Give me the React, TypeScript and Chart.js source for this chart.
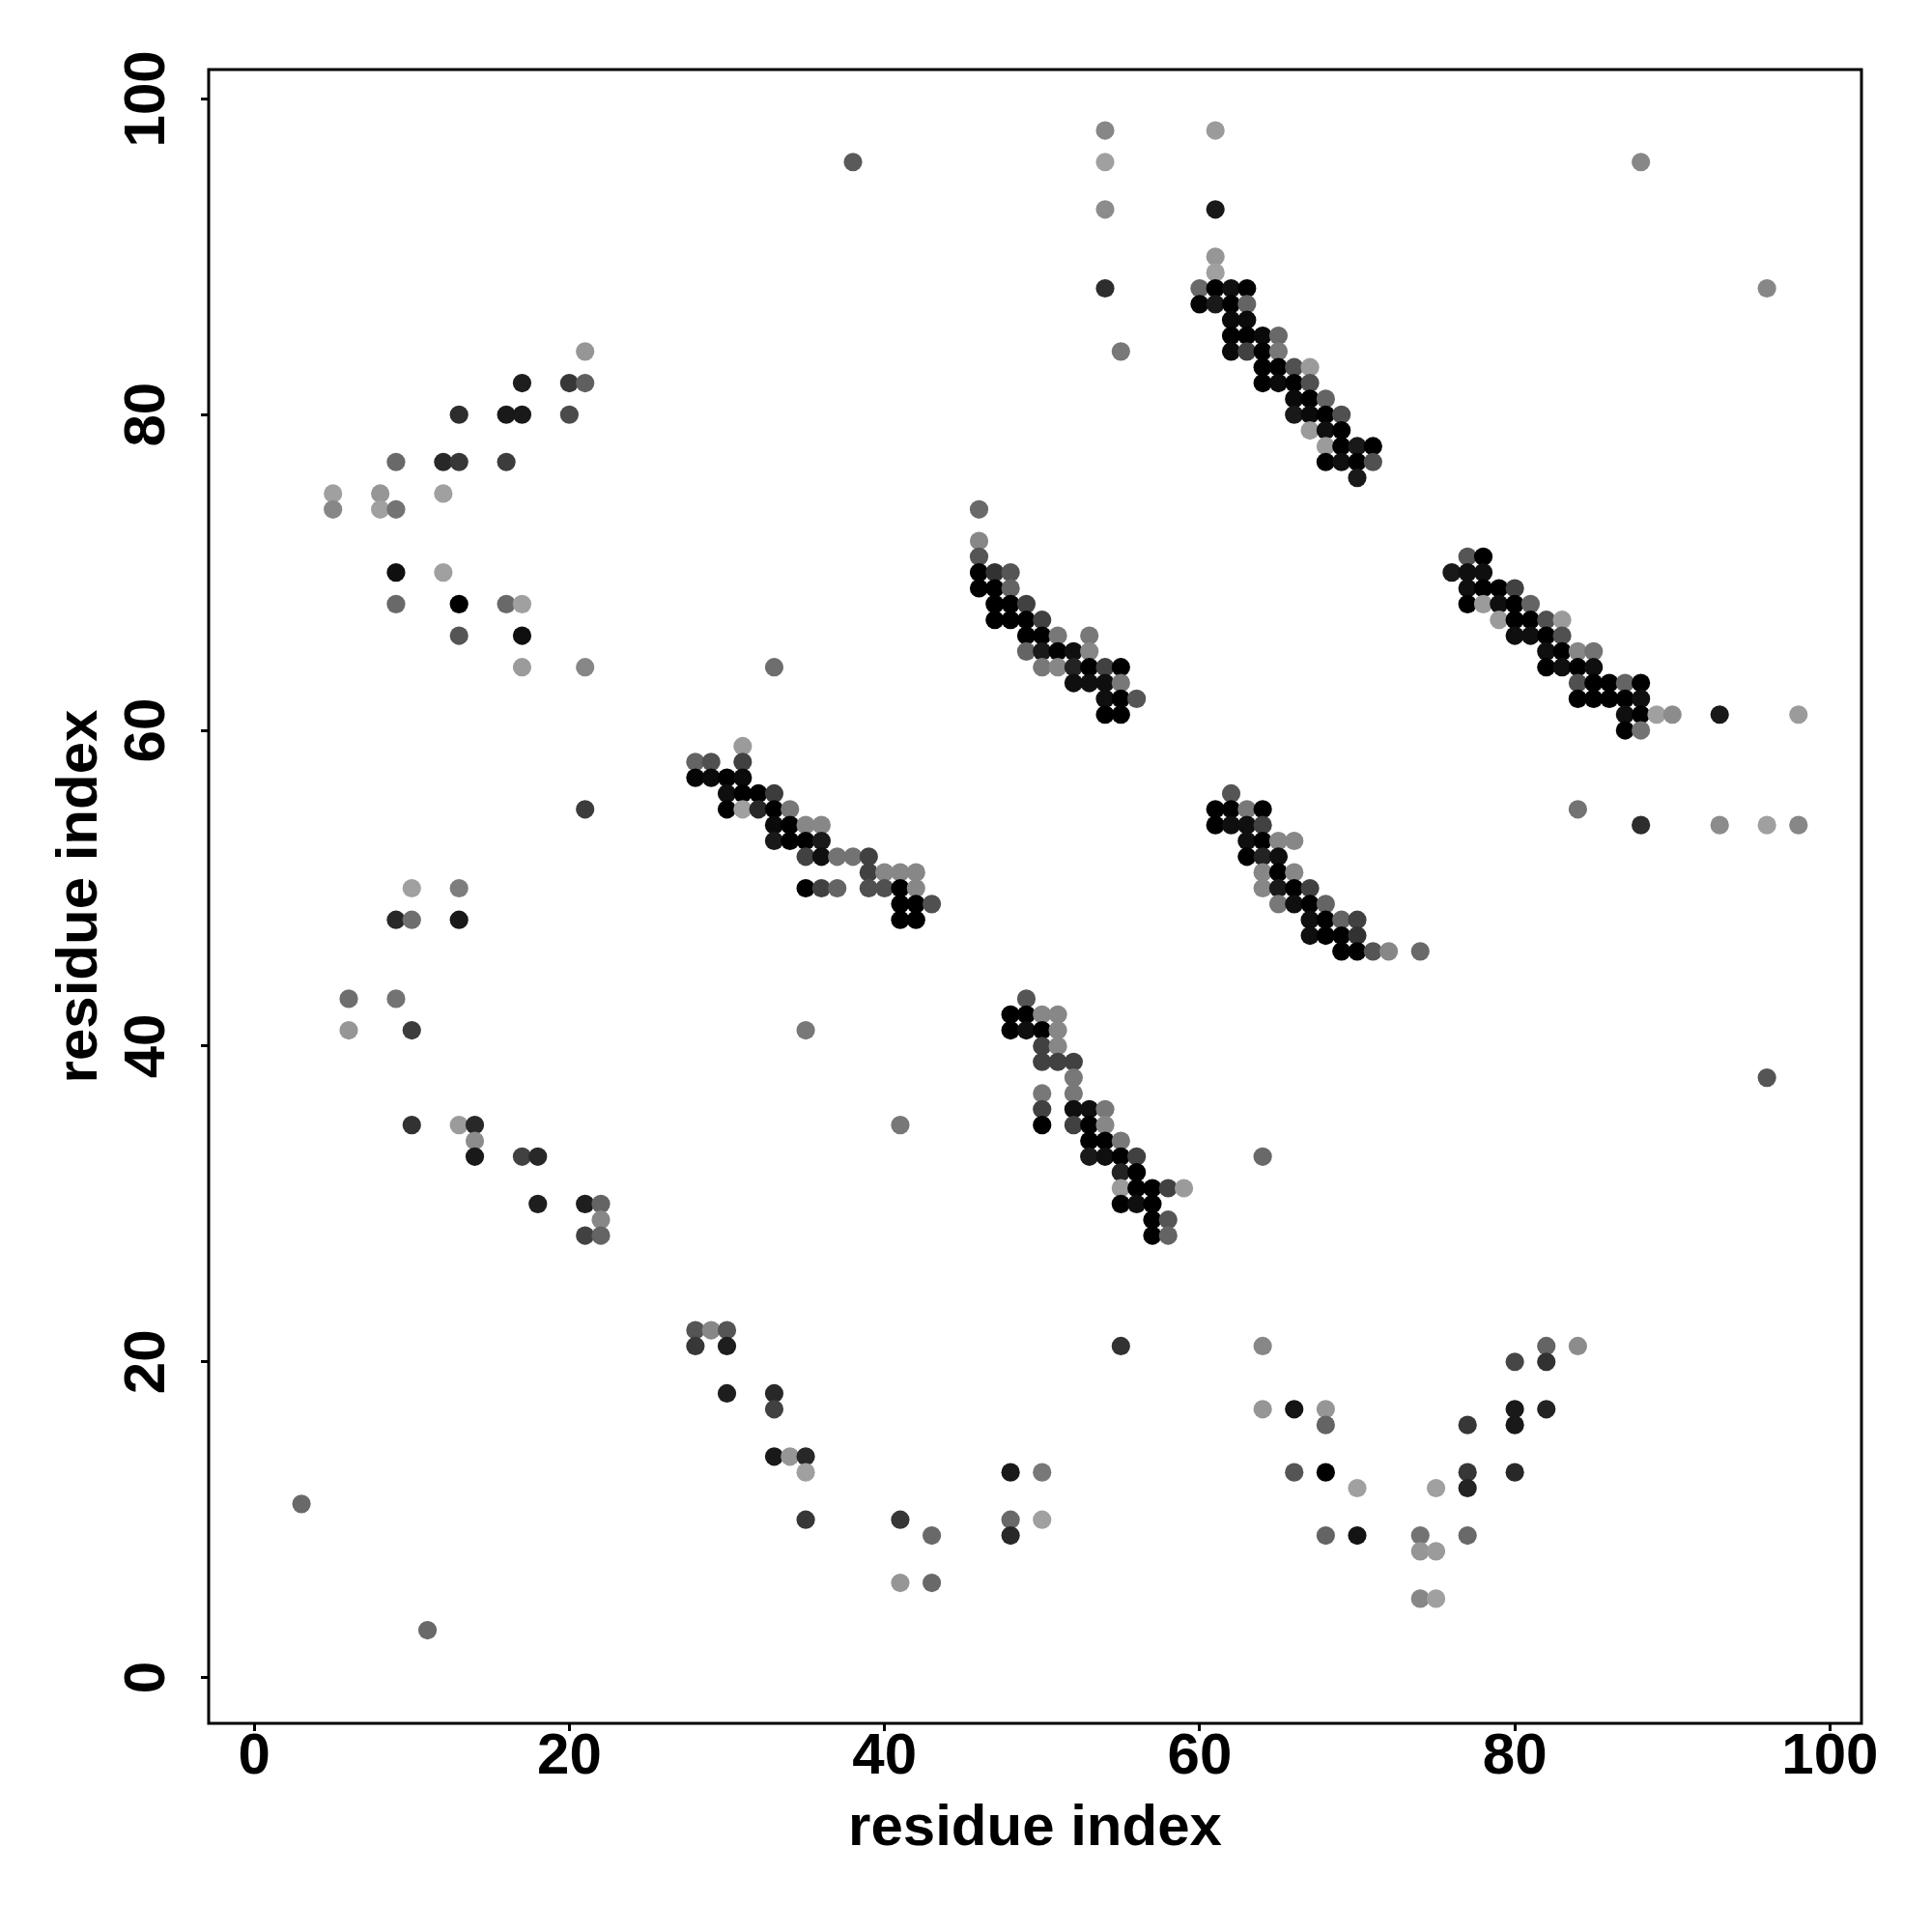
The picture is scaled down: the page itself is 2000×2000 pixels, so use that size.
import React, { useEffect, useRef } from "react";
import { Chart, registerables } from "chart.js";

Chart.register(...registerables);

// Each entry: [residue i (x), residue j (y), gray level 0-255]
const upperLeftContacts: [number, number, number][] = [
  [21, 84, 150], [17, 82, 30], [20, 82, 55], [21, 82, 95],
  [13, 80, 45], [16, 80, 25], [17, 80, 25], [20, 80, 75],
  [9, 77, 105], [12, 77, 40], [13, 77, 55], [16, 77, 60],
  [5, 75, 160], [5, 74, 135], [8, 75, 150], [8, 74, 160], [9, 74, 115], [12, 75, 160],
  [9, 70, 15], [12, 70, 160],
  [9, 68, 105], [13, 68, 0], [16, 68, 105], [17, 68, 160],
  [13, 66, 85], [17, 66, 15],
  [17, 64, 155], [21, 64, 135], [33, 64, 110], [21, 55, 60],
];

const leftMidContacts: [number, number, number][] = [
  [10, 50, 160], [13, 50, 125], [9, 48, 40], [10, 48, 110], [13, 48, 25],
  [6, 43, 110], [9, 43, 115], [6, 41, 150], [10, 41, 60],
  [10, 35, 50], [13, 35, 155], [14, 35, 40], [14, 34, 140],
  [14, 33, 25], [17, 33, 65], [18, 33, 40],
  [18, 30, 30], [21, 30, 30], [22, 30, 100], [22, 29, 135], [21, 28, 65], [22, 28, 100],
  [3, 11, 105], [11, 3, 105],
];

const strandA: [number, number, number][] = [
  [31, 59, 155], [28, 58, 100], [29, 58, 80], [31, 58, 65],
  [28, 57, 5], [29, 57, 10], [30, 57, 0], [31, 57, 10],
  [30, 56, 15], [31, 56, 0], [32, 56, 0], [33, 56, 60],
  [30, 55, 0], [31, 55, 160], [32, 55, 40], [33, 55, 0], [34, 55, 120],
  [33, 54, 10], [34, 54, 0], [35, 54, 135], [36, 54, 135],
  [33, 53, 25], [34, 53, 0], [35, 53, 0], [36, 53, 25],
  [35, 52, 65], [36, 52, 15], [37, 52, 115], [38, 52, 115], [39, 52, 65],
  [39, 51, 65], [40, 51, 135], [41, 51, 135], [42, 51, 135],
  [35, 50, 0], [36, 50, 65], [37, 50, 100], [39, 50, 80], [40, 50, 80], [41, 50, 0], [42, 50, 135],
  [41, 49, 0], [42, 49, 0], [43, 49, 80],
  [41, 48, 0], [42, 48, 0],
  [35, 41, 120], [41, 35, 120],
];

const bottomContacts: [number, number, number][] = [
  [28, 22, 85], [29, 22, 135], [30, 22, 85], [28, 21, 55], [30, 21, 30],
  [30, 18, 30], [33, 18, 40], [33, 17, 65], [33, 14, 25], [34, 14, 150],
  [35, 14, 40], [35, 13, 160], [35, 10, 55], [41, 10, 55], [43, 9, 105], [41, 6, 150], [43, 6, 105],
  [48, 13, 25], [50, 13, 120], [48, 10, 105], [50, 10, 160], [48, 9, 40],
  [55, 21, 50], [64, 33, 105], [64, 21, 135], [64, 17, 150], [66, 17, 20], [66, 13, 85],
  [68, 17, 150], [68, 16, 100], [68, 13, 0], [70, 12, 160], [68, 9, 100], [70, 9, 20],
  [74, 9, 115], [74, 8, 150], [75, 8, 155], [74, 5, 135], [75, 5, 160], [75, 12, 160],
  [77, 16, 55], [77, 13, 55], [77, 12, 35], [77, 9, 105],
  [80, 20, 70], [80, 17, 25], [80, 16, 25], [80, 13, 40],
  [82, 21, 100], [82, 20, 50], [82, 17, 35], [84, 21, 140],
];

const topContacts: [number, number, number][] = [
  [38, 96, 90], [54, 98, 135], [54, 96, 160], [54, 93, 140], [54, 88, 45], [55, 84, 120],
  [61, 98, 155], [61, 93, 25], [61, 90, 150], [61, 89, 160],
  [88, 96, 135], [96, 88, 135],
];

const strandB: [number, number, number][] = [
  [60, 88, 105], [61, 88, 0], [62, 88, 15], [63, 88, 0],
  [60, 87, 5], [61, 87, 25], [62, 87, 0], [63, 87, 100],
  [62, 86, 10], [63, 86, 10],
  [62, 85, 0], [63, 85, 0], [64, 85, 10], [65, 85, 105],
  [62, 84, 10], [63, 84, 65], [64, 84, 0], [65, 84, 120],
  [64, 83, 0], [65, 83, 0], [66, 83, 80], [67, 83, 155],
  [64, 82, 0], [65, 82, 10], [66, 82, 0], [67, 82, 80],
  [66, 81, 10], [67, 81, 0], [68, 81, 100],
  [66, 80, 25], [67, 80, 10], [68, 80, 0], [69, 80, 80],
  [67, 79, 155], [68, 79, 15], [69, 79, 0],
  [68, 78, 155], [69, 78, 0], [70, 78, 25], [71, 78, 0],
  [68, 77, 0], [69, 77, 15], [70, 77, 0], [71, 77, 80],
  [70, 76, 25],
];

const strandC: [number, number, number][] = [
  [46, 74, 105], [46, 72, 135], [46, 71, 85],
  [46, 70, 0], [47, 70, 50], [48, 70, 85],
  [46, 69, 0], [47, 69, 0], [48, 69, 100],
  [47, 68, 0], [48, 68, 0], [49, 68, 65],
  [47, 67, 0], [48, 67, 0], [49, 67, 0], [50, 67, 65],
  [49, 66, 0], [50, 66, 0], [51, 66, 120], [53, 66, 120],
  [49, 65, 100], [50, 65, 25], [51, 65, 0], [52, 65, 15], [53, 65, 135],
  [50, 64, 120], [51, 64, 135], [52, 64, 35], [53, 64, 0], [54, 64, 65], [55, 64, 0],
  [52, 63, 15], [53, 63, 15], [54, 63, 15], [55, 63, 120],
  [54, 62, 15], [55, 62, 0], [56, 62, 85],
  [54, 61, 0], [55, 61, 0],
];

const strandD: [number, number, number][] = [
  [62, 56, 85],
  [61, 55, 0], [62, 55, 0], [63, 55, 120], [64, 55, 0],
  [61, 54, 0], [62, 54, 15], [63, 54, 15], [64, 54, 65],
  [63, 53, 15], [64, 53, 0], [65, 53, 135], [66, 53, 135],
  [63, 52, 0], [64, 52, 35], [65, 52, 15],
  [64, 51, 135], [65, 51, 0], [66, 51, 135],
  [64, 50, 135], [65, 50, 25], [66, 50, 0], [67, 50, 65],
  [65, 49, 120], [66, 49, 15], [67, 49, 0], [68, 49, 100],
  [67, 48, 15], [68, 48, 0], [69, 48, 100], [70, 48, 65],
  [67, 47, 15], [68, 47, 0], [69, 47, 0], [70, 47, 50],
  [69, 46, 0], [70, 46, 0], [71, 46, 85], [72, 46, 135], [74, 46, 105],
];

const strandE: [number, number, number][] = [
  [49, 43, 85],
  [48, 42, 0], [49, 42, 0], [50, 42, 135], [51, 42, 135],
  [48, 41, 0], [49, 41, 15], [50, 41, 0], [51, 41, 135],
  [50, 40, 65], [51, 40, 135],
  [50, 39, 65], [51, 39, 65], [52, 39, 65],
  [52, 38, 120], [50, 37, 120], [52, 37, 120],
  [50, 36, 65], [52, 36, 15], [53, 36, 15], [54, 36, 120],
  [50, 35, 0], [52, 35, 65], [53, 35, 0], [54, 35, 135],
  [53, 34, 0], [54, 34, 0], [55, 34, 120],
  [53, 33, 25], [54, 33, 15], [55, 33, 0], [56, 33, 65],
  [55, 32, 35], [56, 32, 0],
  [55, 31, 155], [56, 31, 0], [57, 31, 0], [58, 31, 65], [59, 31, 155],
  [55, 30, 0], [56, 30, 15], [57, 30, 0],
  [57, 29, 0], [58, 29, 85],
  [57, 28, 0], [58, 28, 100],
];

const strandF: [number, number, number][] = [
  [77, 71, 85], [78, 71, 0],
  [76, 70, 25], [77, 70, 15], [78, 70, 15],
  [77, 69, 15], [78, 69, 0], [79, 69, 0], [80, 69, 65],
  [77, 68, 0], [78, 68, 155], [79, 68, 15], [80, 68, 0], [81, 68, 100],
  [79, 67, 155], [80, 67, 0], [81, 67, 0], [82, 67, 80], [83, 67, 155],
  [80, 66, 15], [81, 66, 15], [82, 66, 0], [83, 66, 80],
  [82, 65, 15], [83, 65, 0], [84, 65, 135], [85, 65, 115],
  [82, 64, 0], [83, 64, 15], [84, 64, 0], [85, 64, 15],
  [84, 63, 80], [85, 63, 0], [86, 63, 0], [87, 63, 100], [88, 63, 0],
  [84, 62, 0], [85, 62, 0], [86, 62, 0], [87, 62, 0], [88, 62, 15],
  [87, 61, 15], [88, 61, 0], [89, 61, 160], [90, 61, 140], [93, 61, 25], [98, 61, 155],
  [87, 60, 0], [88, 60, 115],
  [84, 55, 115], [88, 54, 45], [93, 54, 140], [96, 54, 160], [98, 54, 135], [96, 38, 85],
];

const xTickValues = [0, 20, 40, 60, 80, 100];
const yTickValues = [0, 20, 40, 60, 80, 100];
const xAxisTitle = "residue index";
const yAxisTitle = "residue index";

const FONT = "'Liberation Sans', Arial, Helvetica, sans-serif";

export default function App() {
  const ref = useRef<HTMLCanvasElement | null>(null);

  useEffect(() => {
    document.body.style.margin = "0";
    const canvas = ref.current;
    if (!canvas) return;

    const all = [
      ...upperLeftContacts, ...leftMidContacts, ...strandA, ...bottomContacts,
      ...topContacts, ...strandB, ...strandC, ...strandD, ...strandE, ...strandF,
    ];

    const framePlugin = {
      id: "frameAndYLabels",
      afterDraw(chart: any) {
        const { ctx, chartArea } = chart;
        const ys = chart.scales.y;
        ctx.save();
        ctx.strokeStyle = "#000";
        ctx.lineWidth = 3;
        ctx.strokeRect(
          chartArea.left, chartArea.top,
          chartArea.right - chartArea.left, chartArea.bottom - chartArea.top
        );
        ctx.fillStyle = "#000";
        ctx.font = `bold 60px ${FONT}`;
        ctx.textAlign = "center";
        ctx.textBaseline = "alphabetic";
        for (const v of yTickValues) {
          const py = ys.getPixelForValue(v);
          ctx.save();
          ctx.translate(chartArea.left - 46, py);
          ctx.rotate(-Math.PI / 2);
          ctx.fillText(String(v), 0, 0);
          ctx.restore();
        }
        ctx.restore();
      },
    };

    const chart = new Chart(canvas, {
      type: "scatter",
      data: {
        datasets: [
          {
            data: all.map((p) => ({ x: p[0], y: p[1] })),
            backgroundColor: all.map((p) => `rgb(${p[2]},${p[2]},${p[2]})`),
            pointRadius: 9.6,
            pointHoverRadius: 9.6,
            pointBorderWidth: 0,
            borderWidth: 0,
          },
        ],
      },
      options: {
        responsive: false,
        animation: false,
        devicePixelRatio: 1,
        events: [],
        layout: { padding: { left: 47, right: 73, top: 72, bottom: 71 } },
        plugins: { legend: { display: false }, tooltip: { enabled: false } },
        scales: {
          x: {
            type: "linear",
            min: -2.89,
            max: 102.0,
            afterBuildTicks: (s: any) => {
              s.ticks = xTickValues.map((v) => ({ value: v }));
            },
            afterFit: (s: any) => {
              s.height = 145;
            },
            ticks: {
              color: "#000",
              padding: 0,
              autoSkip: false,
              maxRotation: 0,
              font: { family: FONT, weight: "bold", size: 60, lineHeight: 0.9 },
            },
            grid: {
              drawOnChartArea: false,
              drawTicks: true,
              tickLength: 8,
              color: "#000",
              lineWidth: 3,
            },
            border: { display: false },
            title: {
              display: true,
              text: xAxisTitle,
              color: "#000",
              padding: 0,
              font: { family: FONT, weight: "bold", size: 60, lineHeight: 1.2 },
            },
          },
          y: {
            type: "linear",
            min: -2.9,
            max: 101.86,
            afterBuildTicks: (s: any) => {
              s.ticks = yTickValues.map((v) => ({ value: v }));
            },
            afterFit: (s: any) => {
              s.width = 169;
            },
            ticks: { display: false },
            grid: {
              drawOnChartArea: false,
              drawTicks: true,
              tickLength: 8,
              color: "#000",
              lineWidth: 3,
            },
            border: { display: false },
            title: {
              display: true,
              text: yAxisTitle,
              color: "#000",
              padding: 0,
              font: { family: FONT, weight: "bold", size: 60, lineHeight: 1.2 },
            },
          },
        },
      } as any,
      plugins: [framePlugin],
    });

    return () => chart.destroy();
  }, []);

  return (
    <canvas
      ref={ref}
      width={2000}
      height={2000}
      style={{ display: "block", width: "2000px", height: "2000px" }}
    />
  );
}
